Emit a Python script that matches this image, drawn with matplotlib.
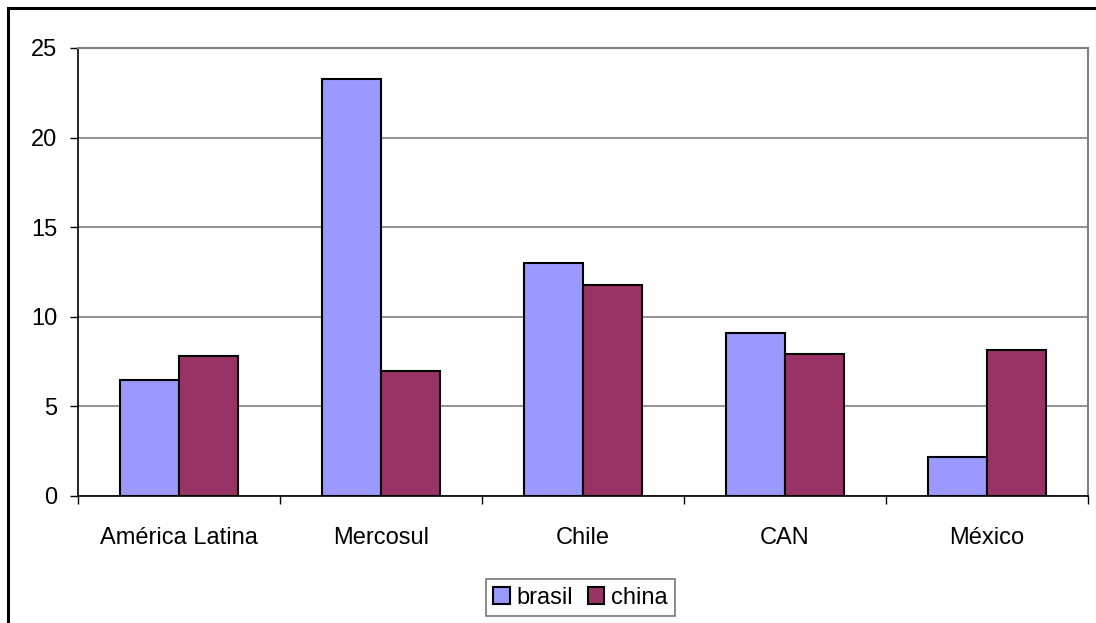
import matplotlib
matplotlib.use("Agg")
import matplotlib.pyplot as plt
import numpy as np
from matplotlib.patches import Rectangle

categories = ["América Latina", "Mercosul", "Chile", "CAN", "México"]
brasil = [6.5, 23.25, 13.0, 9.1, 2.2]
china = [7.8, 6.95, 11.8, 7.9, 8.15]
series_names = ["brasil", "china"]
yticks = [0, 5, 10, 15, 20, 25]

plt.rcParams['font.family'] = ['Liberation Sans', 'DejaVu Sans']

W, H = 1096, 623
fig = plt.figure(figsize=(W / 100, H / 100), dpi=100)
ax = fig.add_axes([78 / W, 1 - 496 / H, (1088 - 78) / W, (496 - 48) / H])

x = np.arange(len(categories))
bw = 0.29
ax.bar(x - bw / 2, brasil, width=bw, color="#9999ff", edgecolor="black", linewidth=1.5,
       label=series_names[0], zorder=3)
ax.bar(x + bw / 2, china, width=bw, color="#993366", edgecolor="black", linewidth=1.5,
       label=series_names[1], zorder=3)

ax.set_xlim(-0.5, len(categories) - 0.5)
ax.set_ylim(0, 25)
ax.set_yticks(yticks)
ax.yaxis.grid(True, color="#808080", linewidth=1.2, zorder=0)
ax.set_axisbelow(True)

ax.set_xticks(np.arange(-0.5, len(categories), 1.0))
ax.set_xticklabels([])
ax.set_xticks(x, minor=True)
ax.set_xticklabels(categories, minor=True, fontsize=17)
ax.tick_params(axis="x", which="minor", length=0, pad=22)
ax.tick_params(axis="x", which="major", length=6, width=1, color="black", direction="out")
ax.tick_params(axis="y", length=6, width=1, labelsize=17, pad=9, direction="out")

for s in ["top", "right"]:
    ax.spines[s].set_color("#808080")
    ax.spines[s].set_linewidth(1.5)
for s in ["left", "bottom"]:
    ax.spines[s].set_color("black")
    ax.spines[s].set_linewidth(1.2)

leg = fig.legend(loc="center", bbox_to_anchor=(580.5 / W, 1 - 597.5 / H), ncol=2,
                 fontsize=17, frameon=True, fancybox=False, edgecolor="#555555",
                 handlelength=0.7, handleheight=0.7, handletextpad=0.3,
                 columnspacing=0.6, borderpad=0.3, borderaxespad=0)
leg.get_frame().set_linewidth(1.2)

# outer chart frame (top and left visible)
fig.add_artist(Rectangle((7.5 / W, -0.1), 1.2, 1 - 7.5 / H + 0.1, transform=fig.transFigure,
                         fill=False, edgecolor="black", linewidth=2.2))

fig.savefig("out.png", dpi=100)
